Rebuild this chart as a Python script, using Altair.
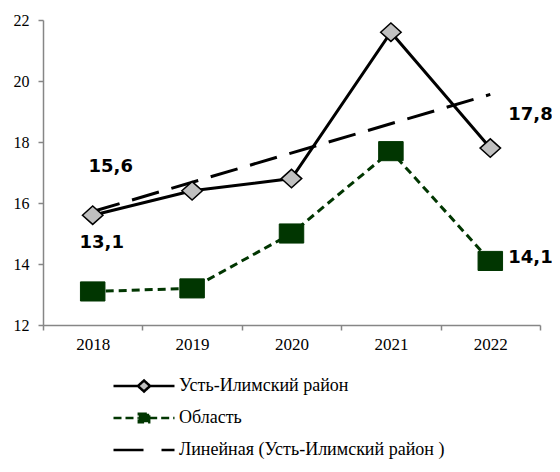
import altair as alt
import pandas as pd

years = [2018, 2019, 2020, 2021, 2022]
district = [15.6, 16.4, 16.8, 21.6, 17.8]
region = [13.1, 13.2, 15.0, 17.7, 14.1]
series_names = ["Усть-Илимский  район", "Область", "Линейная (Усть-Илимский  район )"]
label_texts = ["15,6", "13,1", "17,8", "14,1"]
label_years = [2018, 2018, 2022, 2022]
label_values = [15.6, 13.1, 17.8, 14.1]
y_ticks = [12, 14, 16, 18, 20, 22]

GREEN = "#013601"

df = pd.DataFrame({
    "year": years * 2,
    "value": district + region,
    "series": [series_names[0]] * len(years) + [series_names[1]] * len(years),
})
labels_df = pd.DataFrame({"year": label_years, "value": label_values, "text": label_texts})
legend_df = pd.DataFrame({"series": series_names})

x = alt.X("year:O",
          scale=alt.Scale(type="band", domain=years, paddingInner=0, paddingOuter=0),
          axis=alt.Axis(title=None, labelAngle=0, tickBand="extent", labelPadding=6))
y = alt.Y("value:Q",
          scale=alt.Scale(domain=[12, 22], nice=False, zero=False),
          axis=alt.Axis(title=None, values=y_ticks, grid=False, labelPadding=9))

base = alt.Chart(df)
dist = base.transform_filter(alt.datum.series == series_names[0])
reg = base.transform_filter(alt.datum.series == series_names[1])

line_reg = reg.mark_line(color=GREEN, strokeWidth=3, strokeDash=[8, 5]).encode(x=x, y=y)
trend = dist.transform_regression("year", "value").mark_line(
    color="black", strokeWidth=3, strokeDash=[28, 13]).encode(x=x, y=y)
line_dist = dist.mark_line(color="black", strokeWidth=3).encode(x=x, y=y)

pts_dist = dist.mark_point(shape="M-1,0L0,-0.9L1,0L0,0.9Z", filled=True, fill="#c0c0c0",
                           stroke="black", strokeWidth=1.5, size=420, opacity=1).encode(x=x, y=y)
pts_reg = reg.mark_point(shape="M-1,-0.78L1,-0.78L1,0.78L-1,0.78Z", filled=True, fill=GREEN,
                         stroke=GREEN, strokeWidth=1, size=600, opacity=1).encode(x=x, y=y)

label_offsets = [(18, -48, "center"), (9, -48, "center"), (18, -33, "left"), (18, -3, "left")]
label_layers = []
for i, (dx, dy, al) in enumerate(label_offsets):
    label_layers.append(
        alt.Chart(labels_df.iloc[[i]]).mark_text(
            font="DejaVu Sans", fontWeight="bold", fontSize=18, color="black",
            dx=dx, dy=dy, align=al, baseline="middle"
        ).encode(x=x, y=y, text="text:N")
    )

legend_paths = [
    "M-1,0L-0.2,0M0.2,0L1,0M0,-0.18L0.2,0L0,0.18L-0.2,0Z",
    "M-1,0L-0.17,0M0.17,0L1,0M-0.17,-0.14L0.17,-0.14L0.17,0.14L-0.17,0.14Z",
    "M-1,0L1,0",
]
leg = alt.Legend(orient="none", legendX=69, legendY=356, direction="vertical", title=None,
                 symbolSize=3721, symbolStrokeWidth=2.5, symbolOpacity=1, padding=0,
                 labelFont="Liberation Serif", labelFontSize=18, labelColor="black",
                 labelOffset=3, labelLimit=0, rowPadding=12, clipHeight=20)
legend_layer = alt.Chart(legend_df).mark_point(opacity=0, filled=True).encode(
    shape=alt.Shape("series:N", scale=alt.Scale(domain=series_names, range=legend_paths), legend=leg),
    stroke=alt.Stroke("series:N", scale=alt.Scale(domain=series_names, range=["black", GREEN, "black"]), legend=leg),
    fill=alt.Fill("series:N", scale=alt.Scale(domain=series_names, range=["#c0c0c0", GREEN, "transparent"]), legend=leg),
    strokeDash=alt.StrokeDash("series:N", scale=alt.Scale(domain=series_names, range=[[1, 0], [8, 4], [30, 18]]), legend=leg),
)

chart = alt.layer(line_reg, trend, line_dist, pts_dist, pts_reg, *label_layers, legend_layer).properties(
    width=497, height=305,
    autosize=alt.AutoSizeParams(type="none"),
    padding={"left": 35, "top": 12, "right": 12, "bottom": 139},
).configure_view(stroke=None).configure_axis(
    domainColor="#868686", domainWidth=1.5, tickColor="#868686", tickWidth=1.5, tickSize=5,
    labelFont="Liberation Serif", labelFontSize=17, labelColor="black",
).configure_axisY(labelFontSize=16)

chart.save("out.html", embed_options={"renderer": "svg", "actions": False})
